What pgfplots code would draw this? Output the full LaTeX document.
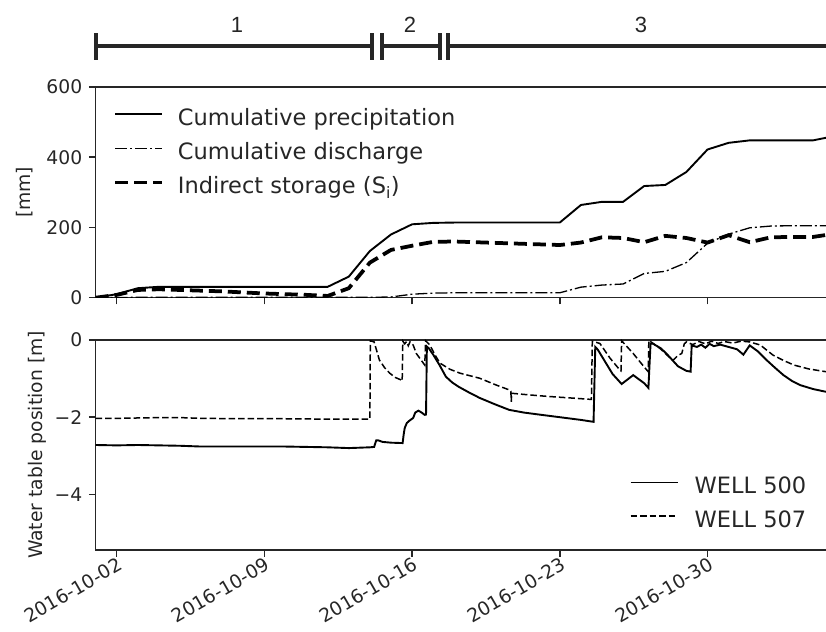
\documentclass[border=0pt]{standalone}
\usepackage{pgfplots}
\pgfplotsset{compat=1.18}
\usepackage{fontspec}
\setmainfont{DejaVu Sans}
\newfontfamily\helv{Liberation Sans}
\definecolor{ink}{HTML}{262626}

\begin{document}
\begin{tikzpicture}
\useasboundingbox (0pt,0pt) rectangle (826pt,631pt);
\pgfplotsset{
  every axis/.append style={
    scale only axis, width=738.5pt, anchor=south west,
    xmin=1, xmax=36,
    tick align=outside, major tick length=6.6pt,
    xtick={2,9,16,23,30},
    xtick pos=left, ytick pos=left,
    axis line style={line width=1.5pt, ink},
    every tick/.style={line width=1.5pt, ink},
    tick label style={font=\fontsize{18.75}{22}\selectfont, text=ink},
    y tick label style={anchor=east, inner sep=0pt, xshift=-6.6pt},
    label style={font=\fontsize{18.75}{22}\selectfont, text=ink},
    legend cell align=left,
    legend image code/.code={\draw[#1] (0pt,5.5pt) -- (47pt,5.5pt);},
  }
}

% ---------- upper axis ----------
\begin{axis}[
  at={(95.6pt,333.3pt)}, height=210.7pt,
  ymin=0, ymax=600, ytick={0,200,400,600}, yticklabels={0,200,400,600},
  xticklabels={},
  ylabel={[mm]},
  ylabel style={at={(axis description cs:-0.0963,0.5)}, anchor=center},
  legend style={draw=none, fill=none, at={(0.0236,0.8956)}, anchor=north west,
    font=\fontsize{22.5}{27}\selectfont, text=ink, row sep=12.5pt, column sep=14pt,
    inner sep=0pt, nodes={inner sep=0pt, text height=16.5pt, text depth=5pt}},
]
\addplot[black, line width=1.9pt] coordinates {
(1,0) (2,10) (3,27) (4,31) (5,31) (6,31) (7,31) (8,31) (9,31) (10,31) (11,31) (12,31)
(13,60) (14,133) (15,180) (16,209) (17,213) (18,214) (19,214) (20,214) (21,214) (22,214) (23,214)
(24,264) (25,273) (26,273) (27,318) (28,321) (29,358) (30,422) (31,441) (32,448) (33,448) (34,448) (35,448) (36,460)
};
\addlegendentry{Cumulative precipitation}
\addplot[black, line width=1.3pt, dash pattern=on 12pt off 3pt on 2pt off 3pt] coordinates {
(1,0) (3,1) (5,1) (10,1) (14,1) (15,2) (16,10) (17,13) (18,14) (19,14) (20,14) (21,14) (22,14) (23,14)
(24,30) (25,36) (26,39) (27,69) (28,75) (29,100) (30,155) (31,181) (32,199) (33,204) (34,205) (35,205) (36,205)
};
\addlegendentry{Cumulative discharge}
\addplot[black, line width=3.75pt, dash pattern=on 13pt off 6pt] coordinates {
(1,0) (2,8) (3,22) (4,24) (5,22) (6,20) (7,18) (8,15) (9,12) (10,10) (11,8) (12,5)
(13,27) (14,100) (15,136) (16,148) (17,159) (18,160) (19,158) (20,156) (21,154) (22,152) (23,150)
(24,157) (25,172) (26,170) (27,158) (28,176) (29,170) (30,157) (31,178) (32,158) (33,172) (34,173) (35,173) (36,182)
};
\addlegendentry{Indirect storage (S\textsubscript{i})}
\end{axis}

% ---------- lower axis ----------
\begin{axis}[
  at={(95.6pt,81pt)}, height=210pt,
  ymin=-5.44, ymax=0, ytick={-4,-2,0}, yticklabels={−4,−2,0},
  xticklabels={2016-10-02,2016-10-09,2016-10-16,2016-10-23,2016-10-30},
  x tick label style={rotate=30, anchor=north east, inner sep=0pt},
  ylabel={Water table position [m]},
  ylabel style={at={(axis description cs:-0.0787,0.5)}, anchor=center},
  legend style={draw=none, fill=none, at={(0.7230,0.3476)}, anchor=north west,
    font=\fontsize{22.5}{27}\selectfont, text=ink, row sep=12pt, column sep=16pt,
    inner sep=0pt, nodes={inner sep=0pt, text height=16.5pt, text depth=5pt}},
]
\addplot[black, line width=1.9pt] coordinates {
(1.0,-2.72) (2.0,-2.73) (3.0,-2.72) (4.0,-2.73) (5.0,-2.74) (6.0,-2.76) (8.0,-2.76) (10.0,-2.76)
(12.0,-2.78) (13.0,-2.80) (14.0,-2.78) (14.2,-2.77) (14.3,-2.60) (14.4,-2.60) (14.6,-2.64) (15.0,-2.66)
(15.55,-2.67) (15.6,-2.45) (15.65,-2.28) (15.75,-2.15) (15.85,-2.10) (16.05,-2.02) (16.15,-1.88)
(16.21,-1.86) (16.3,-1.83) (16.45,-1.88) (16.6,-1.94) (16.66,-1.93) (16.7,-0.17) (16.8,-0.22)
(17.0,-0.38) (17.3,-0.65) (17.6,-0.95) (17.9,-1.10) (18.2,-1.21) (18.7,-1.36) (19.2,-1.50) (19.9,-1.66)
(20.6,-1.81) (21.3,-1.88) (22.0,-1.93) (23.0,-2.00) (24.0,-2.07) (24.6,-2.12) (24.68,-0.18) (24.8,-0.25)
(25.1,-0.52) (25.5,-0.88) (25.93,-1.14) (26.48,-0.91) (27.0,-1.12) (27.2,-1.24) (27.3,-0.10) (27.4,-0.09)
(27.8,-0.22) (28.1,-0.38) (28.6,-0.68) (29.0,-0.80) (29.2,-0.82) (29.25,-0.14) (29.5,-0.18) (29.7,-0.12)
(29.9,-0.20) (30.1,-0.10) (30.3,-0.16) (30.6,-0.12) (31.0,-0.18) (31.4,-0.24) (31.7,-0.38) (32.0,-0.14)
(32.4,-0.30) (32.8,-0.52) (33.2,-0.72) (33.6,-0.91) (34.0,-1.06) (34.4,-1.17) (35.0,-1.27) (35.6,-1.34) (36.0,-1.38)
};
\addlegendentry{WELL 500}
\addplot[black, line width=1.5pt, dash pattern=on 6.5pt off 3pt] coordinates {
(1.0,-2.03) (2.0,-2.03) (3.0,-2.02) (4.0,-2.01) (5.0,-2.01) (6.0,-2.03) (8.0,-2.04) (10.0,-2.04)
(12.0,-2.05) (13.5,-2.05) (14.0,-2.05) (14.02,-0.02) (14.2,-0.05) (14.45,-0.52) (14.7,-0.72) (14.94,-0.86)
(15.2,-0.97) (15.5,-1.04) (15.53,-1.06) (15.56,-0.03) (15.65,-0.10) (15.74,-0.04) (15.82,-0.15) (15.9,-0.05)
(16.05,-0.13) (16.2,-0.35) (16.36,-0.47) (16.6,-0.65) (16.64,-0.02) (16.84,-0.13) (17.1,-0.40) (17.32,-0.60)
(17.8,-0.76) (18.27,-0.86) (19.2,-0.99) (20.0,-1.17) (20.64,-1.30) (20.68,-1.33) (20.70,-1.60) (20.72,-1.38)
(21.5,-1.42) (22.4,-1.46) (23.2,-1.49) (24.0,-1.52) (24.5,-1.54) (24.54,-0.03) (24.9,-0.09) (25.38,-0.47)
(25.85,-0.78) (25.9,-0.80) (25.93,-0.02) (26.48,-0.35) (27.0,-0.70) (27.19,-0.82) (27.22,-0.01) (27.75,-0.22)
(28.2,-0.45) (28.38,-0.52) (28.6,-0.40) (28.78,-0.35) (28.9,-0.10) (29.0,-0.05) (29.3,-0.12) (29.6,-0.04)
(29.9,-0.10) (30.2,-0.03) (30.5,-0.09) (30.8,-0.04) (31.2,-0.08) (31.6,-0.03) (32.0,-0.05) (32.5,-0.13)
(33.1,-0.39) (33.6,-0.53) (34.1,-0.65) (34.8,-0.75) (35.6,-0.82) (36.0,-0.85)
};
\addlegendentry{WELL 507}
\end{axis}

% ---------- period bar ----------
\begin{scope}[line width=4pt, ink]
\draw (95.6pt,585.3pt) -- (371.7pt,585.3pt);
\draw (382.3pt,585.3pt) -- (440pt,585.3pt);
\draw (448.3pt,585.3pt) -- (850pt,585.3pt);
\foreach \xx in {95.6,371.7,382.3,440,448.3}
  \draw[line cap=butt] (\xx pt,571pt) -- (\xx pt,598pt);
\end{scope}
\node[anchor=base, inner sep=0pt, text=ink, font=\helv\fontsize{22}{26}\selectfont] at (237pt,598.7pt) {1};
\node[anchor=base, inner sep=0pt, text=ink, font=\helv\fontsize{22}{26}\selectfont] at (410pt,598.7pt) {2};
\node[anchor=base, inner sep=0pt, text=ink, font=\helv\fontsize{22}{26}\selectfont] at (641pt,598.7pt) {3};
\end{tikzpicture}
\end{document}
